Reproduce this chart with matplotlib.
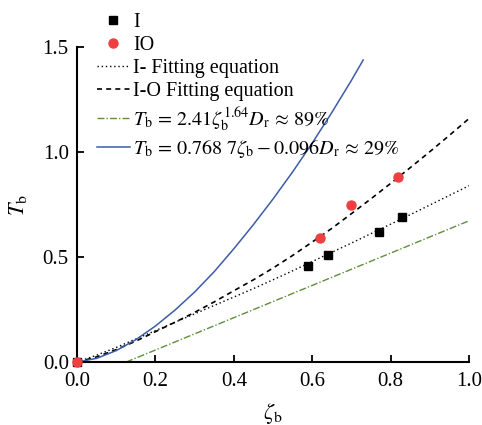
import numpy as np
import matplotlib
matplotlib.use('Agg')
import matplotlib.pyplot as plt

plt.rcParams['font.family'] = ['Liberation Serif', 'DejaVu Serif']
plt.rcParams['mathtext.fontset'] = 'stix'

# measured points
i_zeta = [0.0, 0.59, 0.64, 0.77, 0.83]
i_tb = [0.0, 0.46, 0.51, 0.62, 0.69]
io_zeta = [0.0, 0.62, 0.70, 0.82]
io_tb = [0.0, 0.59, 0.75, 0.88]

# curves
curve_zeta = [0.0, 0.05, 0.1, 0.15, 0.2, 0.25, 0.3, 0.35, 0.4, 0.45, 0.5,
              0.55, 0.6, 0.65, 0.7, 0.75, 0.8, 0.85, 0.9, 0.95, 1.0]
i_fit = [0.0, 0.033, 0.070, 0.110, 0.150, 0.190, 0.230, 0.270, 0.310, 0.350, 0.392,
         0.435, 0.479, 0.523, 0.567, 0.612, 0.657, 0.702, 0.748, 0.794, 0.84]
io_fit = [0.0, 0.025, 0.060, 0.100, 0.145, 0.190, 0.237, 0.287, 0.340, 0.392, 0.448,
          0.508, 0.572, 0.637, 0.707, 0.778, 0.851, 0.926, 1.002, 1.080, 1.16]

blue_zeta = [0.0, 0.05, 0.1, 0.15, 0.2, 0.25, 0.3, 0.35, 0.4, 0.45, 0.5,
             0.55, 0.6, 0.65, 0.7, 0.73]
blue_tb = [0.0, 0.018, 0.055, 0.107, 0.172, 0.248, 0.334, 0.431, 0.540, 0.655, 0.777,
           0.906, 1.043, 1.189, 1.342, 1.439]

green_zeta = [0.125, 1.0]
green_tb = [0.0, 0.673]

lbl_green = r'$T_\mathrm{b}\,=\,2.41\zeta_\mathrm{b}^{1.64}D_\mathrm{r}\,\approx\,89\%$'
lbl_blue = r'$T_\mathrm{b}\,=\,0.768\ 7\zeta_\mathrm{b}-0.096D_\mathrm{r}\,\approx\,29\%$'

fig = plt.figure(figsize=(4.82, 4.25), dpi=100)
ax = fig.add_axes([0.160, 0.148, 0.813, 0.741])

h_i, = ax.plot(i_zeta, i_tb, 's', color='black', ms=6, ls='none', clip_on=False, zorder=5)
h_io, = ax.plot(io_zeta, io_tb, 'o', color='#ee4040', ms=6.5, ls='none', clip_on=False, zorder=6)
h_ifit, = ax.plot(curve_zeta, i_fit, ls=(0, (1, 2)), color='black', lw=1.0)
h_iofit, = ax.plot(curve_zeta, io_fit, ls=(0, (3, 2.5)), color='black', lw=1.2)
h_green, = ax.plot(green_zeta, green_tb, ls=(0, (5, 1.5, 1, 1.5)), color='#5e8f3c', lw=1.0)
h_blue, = ax.plot(blue_zeta, blue_tb, ls='-', color='#3b5ca8', lw=1.1)

ax.set_xlim(0, 1.0)
ax.set_ylim(0, 1.5)
ax.set_xticks([0.0, 0.2, 0.4, 0.6, 0.8, 1.0])
ax.set_yticks([0.0, 0.5, 1.0, 1.5])
ax.xaxis.set_major_formatter(matplotlib.ticker.FormatStrFormatter('%.1f'))
ax.yaxis.set_major_formatter(matplotlib.ticker.FormatStrFormatter('%.1f'))
ax.tick_params(direction='in', length=5, width=1.3, labelsize=15)
ax.tick_params(axis='x', pad=7)
ax.tick_params(axis='y', pad=6)
for s in ['top', 'right']:
    ax.spines[s].set_visible(False)
for s in ['left', 'bottom']:
    ax.spines[s].set_linewidth(1.5)

ax.set_xlabel(r'$\zeta_\mathrm{b}$', fontsize=16, labelpad=7)
ax.set_ylabel(r'$T_\mathrm{b}$', fontsize=16, labelpad=10)

fig.legend([h_i, h_io, h_ifit, h_iofit, h_green, h_blue],
           ['I', 'IO', 'I- Fitting equation', 'I-O Fitting equation', lbl_green, lbl_blue],
           loc='upper left', bbox_to_anchor=(0.201, 0.970), frameon=False,
           fontsize=14.5, handlelength=1.65, handletextpad=0.15, labelspacing=0.2,
           borderpad=0, borderaxespad=0)

fig.savefig('out.png', dpi=100)
